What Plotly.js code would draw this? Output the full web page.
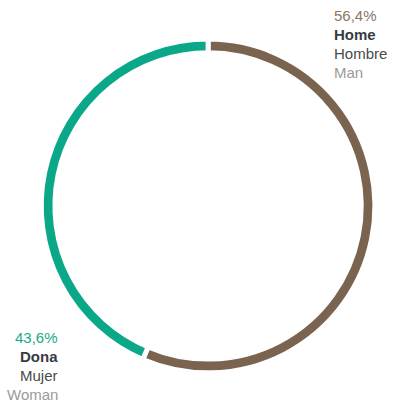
<!DOCTYPE html>
<html><head><meta charset="utf-8">
<script src="https://cdn.plot.ly/plotly-3.0.1.min.js"></script>
<style>body{margin:0;background:#fff}#c{width:393px;height:403px}</style>
</head><body><div id="c"></div>
<script>
const categories = ["Home", "Dona"];
const values = [56.4, 43.6];
const spanish = ["Hombre", "Mujer"];
const english = ["Man", "Woman"];
const pctLabels = ["56,4%", "43,6%"];
const colors = ["#7a6450", "#0aa889"];
const pctColors = ["#8b7662", "#1aa985"];

const data = [{
  type: "pie",
  labels: categories,
  values: values,
  sort: false,
  direction: "clockwise",
  rotation: 0,
  hole: 0.918,
  textinfo: "none",
  hoverinfo: "none",
  marker: {colors: colors, line: {color: "#ffffff", width: 5}},
  domain: {x: [0.104, 0.955], y: [0.075, 0.903]},
  showlegend: false
}];

const font = "Liberation Sans, Arial, sans-serif";
function block(x, anchor, yTop, i) {
  const lines = [
    {t: pctLabels[i], c: pctColors[i]},
    {t: "<b>" + categories[i] + "</b>", c: "#363c44"},
    {t: spanish[i], c: "#4a4a4a"},
    {t: english[i], c: "#9a9a9a"}
  ];
  return lines.map((l, k) => ({
    xref: "paper", yref: "paper", x: x / 393, y: 1 - (yTop + k * 19) / 403,
    xanchor: anchor, yanchor: "middle", showarrow: false,
    text: l.t, font: {family: font, size: 15, color: l.c}
  }));
}
const annotations = [].concat(block(332, "left", 15, 0), block(60, "right", 337, 1));

Plotly.newPlot("c", data, {
  width: 393, height: 403,
  margin: {l: 0, r: 0, t: 0, b: 0},
  paper_bgcolor: "#ffffff",
  annotations: annotations
}, {staticPlot: true});
</script></body></html>
